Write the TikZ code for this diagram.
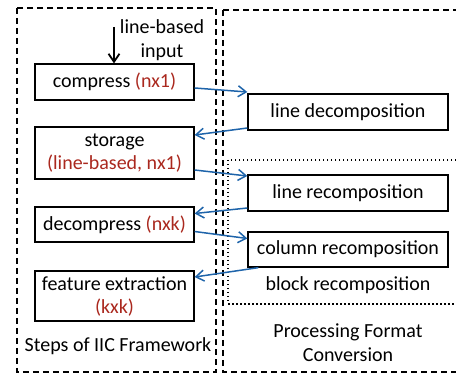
\documentclass[tikz,border=0pt]{standalone}
\usepackage{fontspec}
\setmainfont{Carlito}
\usetikzlibrary{arrows.meta}
\definecolor{dred}{RGB}{170,40,30}
\definecolor{ablue}{RGB}{30,100,170}
\begin{document}
\begin{tikzpicture}[x=1pt,y=-1pt,
  stepbox/.style={draw,line width=1.3pt,minimum width=159pt,inner sep=2pt,align=center,font=\fontsize{20}{23}\selectfont},
  pbox/.style={draw,line width=1.3pt,minimum width=200pt,minimum height=36pt,inner sep=2pt,align=center,font=\fontsize{20}{23}\selectfont},
  lbl/.style={align=center,font=\fontsize{20}{24}\selectfont,inner sep=0pt},
  conn/.style={ablue,line width=1.5pt,-{Straight Barb[length=8pt,width=11pt]}},
  frame/.style={line width=1.1pt,dash pattern=on 6pt off 4pt}]
\useasboundingbox (0,0) rectangle (456,374);
\draw[frame] (17,8) rectangle (216,372);
\draw[frame] (223,10) -- (460,10) (223,10) -- (223,372) -- (460,372);
\draw[line width=1.1pt,dash pattern=on 1.5pt off 2.5pt] (460,160) -- (228,160) -- (228,304) -- (460,304);
\node[stepbox,minimum height=36pt] (c) at (114.5,82) {compress \textcolor{dred}{(nx1)}};
\node[stepbox,minimum height=52pt] (s) at (114.5,153) {storage\\\textcolor{dred}{(line-based, nx1)}};
\node[stepbox,minimum height=35pt] (d) at (114.5,224.5) {decompress \textcolor{dred}{(nxk)}};
\node[stepbox,minimum height=50pt] (f) at (114.5,296) {feature extraction\\\textcolor{dred}{(kxk)}};
\node[pbox] (ld) at (348,112) {line decomposition};
\node[pbox] (lr) at (348,193) {line recomposition};
\node[pbox,minimum height=35pt] (cr) at (348,249.5) {column recomposition};
\node[lbl] (br) at (348,285) {block recomposition};
\node[lbl] (pf) at (348,342.5) {Processing Format\\Conversion};
\node[lbl] (st) at (118,346) {Steps of IIC Framework};
\node[lbl] (in) at (162,40) {line-based\\input};
\coordinate (inTop) at (114,27);
\draw[line width=1.8pt,-{Straight Barb[length=8pt,width=11pt]}] (inTop) -- (c.north -| inTop);
\draw[conn] ([yshift=-6pt]c.east) -- ([yshift=20pt]ld.west);
\draw[conn] ([yshift=-16pt]ld.west) -- ([yshift=18pt]s.east);
\draw[conn] ([yshift=-17pt]s.east) -- ([yshift=17pt]lr.west);
\draw[conn] ([yshift=-15pt]lr.west) -- ([yshift=11pt]d.east);
\draw[conn] ([yshift=-7pt]d.east) -- ([yshift=11pt]cr.west);
\draw[conn] ([xshift=11pt]cr.south west) -- ([yshift=19pt]f.east);
\end{tikzpicture}
\end{document}
